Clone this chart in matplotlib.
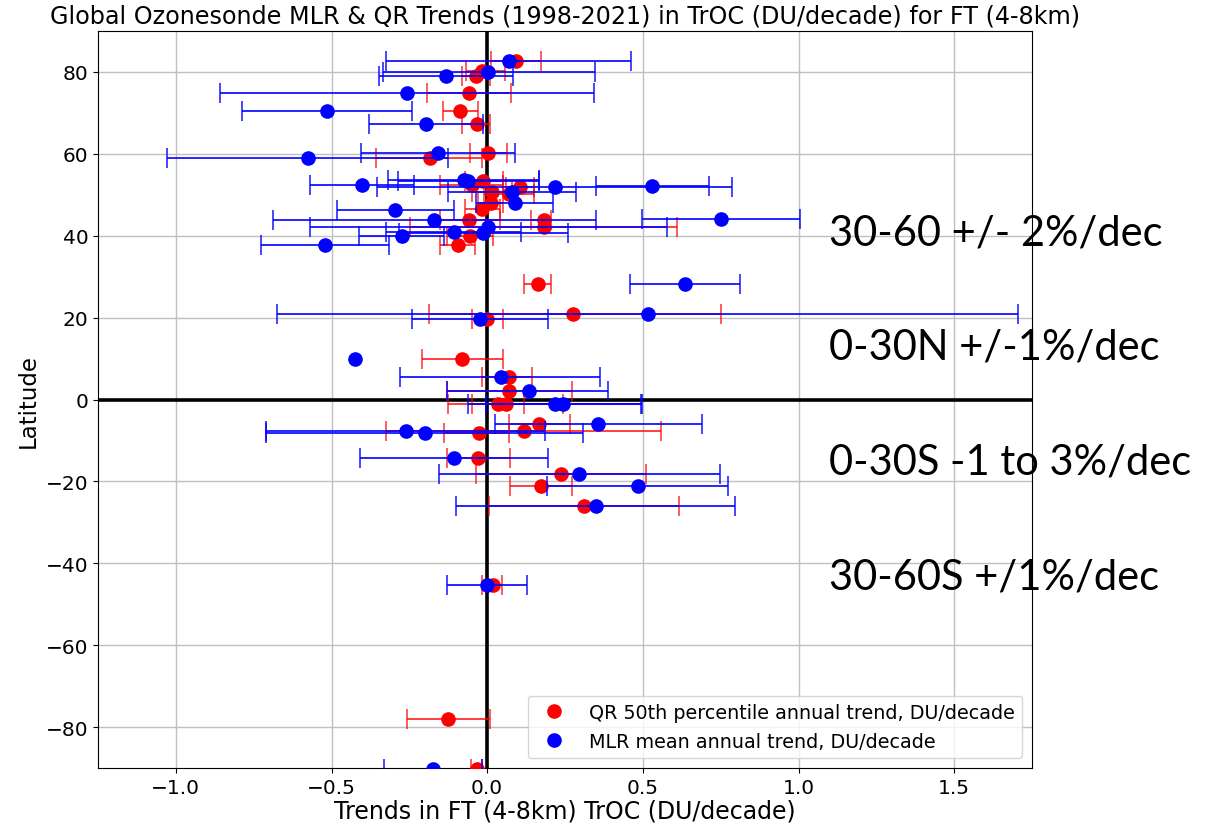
import matplotlib
matplotlib.use("Agg")
import matplotlib.pyplot as plt
from matplotlib.lines import Line2D
import numpy as np

nan = float("nan")

# ---- QR (red) : latitude, trend, lower, upper (DU/decade)
qr_lat = [82.6, 80.3, 78.9, 74.9, 70.5, 67.4, 60.1, 58.9, 53.3, 52.3, 51.9, 50.6,
          50.2, 48.1, 46.6, 43.9, 43.9, 42.1, 40.0, 37.8, 28.3, 21.0, 19.6, 9.8,
          5.5, 2.0, -1.2, -1.2, -5.9, -7.6, -8.2, -14.4, -18.3, -21.2, -26.1,
          -45.3, -78.1, -90.3]
qr_trend = [0.093, -0.017, -0.035, -0.057, -0.087, -0.033, 0.004, -0.184, -0.014,
            -0.049, 0.106, 0.015, 0.069, 0.012, -0.017, -0.057, 0.183, 0.181,
            -0.055, -0.094, 0.163, 0.277, 0.000, -0.080, 0.069, 0.069, 0.034,
            0.059, 0.166, 0.117, -0.027, -0.028, 0.237, 0.173, 0.312, 0.018,
            -0.127, -0.033]
qr_low = [0.012, -0.069, -0.080, -0.192, -0.142, -0.081, -0.055, -0.356, -0.070,
          -0.150, 0.060, -0.050, -0.010, -0.030, -0.070, -0.150, 0.141, -0.249,
          -0.130, -0.150, 0.117, -0.188, -0.050, -0.209, -0.018, -0.129, -0.049,
          -0.125, 0.071, -0.326, -0.139, -0.130, -0.037, 0.074, 0.006, -0.017,
          -0.258, -0.051]
qr_high = [0.174, 0.058, 0.010, 0.076, -0.031, 0.010, 0.063, -0.017, 0.050,
           0.050, 0.150, 0.080, 0.150, 0.050, 0.040, 0.040, 0.206, 0.611,
           0.020, -0.040, 0.205, 0.750, 0.052, 0.052, 0.144, 0.272, 0.119,
           0.243, 0.265, 0.558, 0.071, 0.074, 0.511, 0.271, 0.616, 0.049,
           0.008, -0.016]

# ---- MLR (blue) : latitude, trend, lower, upper (DU/decade)
mlr_lat = [82.6, 80.1, 78.9, 74.9, 70.5, 67.4, 60.1, 58.9, 53.5, 53.3, 52.3, 51.9,
           52.1, 50.8, 47.9, 46.4, 44.0, 43.8, 42.2, 40.9, 40.6, 40.0, 37.8, 28.3,
           21.0, 19.6, 9.8, 5.5, 2.0, -1.2, -1.0, -5.9, -7.6, -8.2, -14.4, -18.3,
           -21.2, -26.1, -45.3, -90.3]
mlr_trend = [0.069, 0.004, -0.131, -0.259, -0.516, -0.197, -0.157, -0.577, -0.075,
             -0.060, -0.403, 0.219, 0.531, 0.079, 0.088, -0.296, 0.750, -0.171,
             0.004, -0.108, -0.012, -0.275, -0.521, 0.637, 0.517, -0.024, -0.423,
             0.044, 0.133, 0.218, 0.244, 0.357, -0.261, -0.200, -0.106, 0.296,
             0.484, 0.349, -0.001, -0.173]
mlr_low = [-0.325, -0.334, -0.347, -0.857, -0.786, -0.380, -0.406, -1.028, -0.318,
           -0.288, -0.570, -0.353, 0.351, -0.125, -0.036, -0.482, 0.496, -0.687,
           -0.568, -0.325, -0.283, -0.411, -0.725, 0.460, -0.674, -0.240, nan,
           -0.281, -0.129, -0.061, -0.005, 0.025, -0.709, -0.709, -0.410, -0.156,
           0.193, -0.101, -0.130, -0.330]
mlr_high = [0.463, 0.345, 0.082, 0.342, -0.242, -0.014, 0.090, -0.127, 0.168,
            0.168, -0.236, 0.785, 0.712, 0.286, 0.212, -0.105, 1.005, 0.349,
            0.579, 0.109, 0.259, -0.139, -0.314, 0.813, 1.704, 0.196, nan,
            0.364, 0.388, 0.497, 0.493, 0.689, 0.187, 0.309, 0.196, 0.749,
            0.772, 0.795, 0.128, -0.016]

x_ticks = [-1.0, -0.5, 0.0, 0.5, 1.0, 1.5]
y_ticks = [-80, -60, -40, -20, 0, 20, 40, 60, 80]

region_notes = ["30-60 +/- 2%/dec", "0-30N +/-1%/dec",
                "0-30S -1 to 3%/dec", "30-60S +/1%/dec"]

title = "Global Ozonesonde MLR & QR Trends (1998-2021) in TrOC (DU/decade) for FT (4-8km)"
xlabel = "Trends in FT (4-8km) TrOC (DU/decade)"
ylabel = "Latitude"
qr_label = "QR 50th percentile annual trend, DU/decade"
mlr_label = "MLR mean annual trend, DU/decade"

# ---- figure
fig = plt.figure(figsize=(12.05, 8.29), dpi=100)
ax = fig.add_axes([98/1205, 1-769/829, (1032-98)/1205, (769-32)/829])

qt = np.array(qr_trend)
qerr = np.vstack([qt - np.array(qr_low), np.array(qr_high) - qt])
mt = np.array(mlr_trend)
merr = np.vstack([mt - np.array(mlr_low), np.array(mlr_high) - mt])

ax.grid(True, color="#c0c0c0", lw=1.0, zorder=0)
ax.set_axisbelow(True)
ax.axvline(0, color="black", lw=2.6, zorder=2)
ax.axhline(0, color="black", lw=2.6, zorder=2)

ax.errorbar(qt, qr_lat, xerr=qerr, fmt="o", color="red", ms=9.5,
            ecolor=(1, 0, 0, 0.75), elinewidth=1.4, capsize=7.5, capthick=1.2,
            zorder=3)
ax.errorbar(mt, mlr_lat, xerr=merr, fmt="o", color="blue", ms=9.5,
            ecolor=(0, 0, 1, 0.85), elinewidth=1.4, capsize=7.5, capthick=1.2,
            zorder=4)

ax.set_xlim(-1.25, 1.75)
ax.set_ylim(-90, 90)
ax.set_xticks(x_ticks)
ax.set_yticks(y_ticks)
ax.tick_params(labelsize=14.5)
ax.set_title(title, fontsize=17.2, pad=6)
ax.set_xlabel(xlabel, fontsize=17, labelpad=1)
ax.set_ylabel(ylabel, fontsize=16.5)

handles = [Line2D([], [], marker="o", color="red", ls="none", ms=9.5),
           Line2D([], [], marker="o", color="blue", ls="none", ms=9.5)]
ax.legend(handles, [qr_label, mlr_label], loc="lower right", fontsize=13.8,
          handletextpad=0.8, borderaxespad=0.5)

ys = [245, 360, 475, 590]
for note, yp in zip(region_notes, ys):
    fig.text(829/1205, 1 - yp/829, note, fontsize=30, family="Lato",
             va="baseline", ha="left")

fig.savefig("out.png", dpi=100)
